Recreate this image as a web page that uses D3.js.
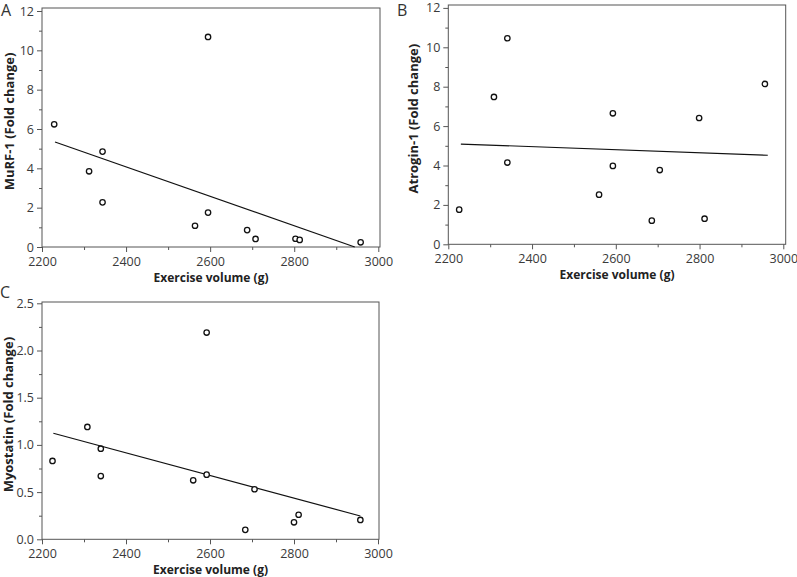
<!DOCTYPE html>
<html><head><meta charset="utf-8">
<script src="https://cdn.jsdelivr.net/npm/d3@7/dist/d3.min.js"></script>
<style>
html,body{margin:0;padding:0;background:#fff;}
svg{display:block;}
.tick text{font-family:"Open Sans",sans-serif;font-size:12.5px;fill:#3a3a3a;}
.axtitle{font-family:"Open Sans",sans-serif;font-size:13px;font-weight:700;fill:#222;}
.plabel{font-family:"Open Sans",sans-serif;font-size:16px;fill:#333;}
</style></head>
<body>
<svg id="chart" width="797" height="577"></svg>
<script>
// ---- data ----
const xTicks = [2200, 2400, 2600, 2800, 3000];
const xMinorTicks = [2300, 2500, 2700, 2900];
const yTicksAB = [0, 2, 4, 6, 8, 10, 12];
const yMinorAB = [1, 3, 5, 7, 9, 11];
const yTicksC = [0, 0.5, 1.0, 1.5, 2.0, 2.5];
const yMinorC = [0.25, 0.75, 1.25, 1.75, 2.25];

const exerciseA = [2229, 2312, 2344, 2344, 2564, 2595, 2595, 2688, 2708, 2803, 2813, 2958];
const murf1     = [6.24, 3.85, 4.85, 2.27, 1.08, 10.68, 1.75, 0.86, 0.41, 0.42, 0.36, 0.24];
const fitA = [[2231, 5.34], [2944, 0]];

const exerciseB = [2226, 2309, 2341, 2341, 2560, 2593, 2593, 2686, 2705, 2799, 2812, 2956];
const atrogin1  = [1.76, 7.48, 10.46, 4.15, 2.52, 6.65, 3.98, 1.20, 3.77, 6.41, 1.30, 8.14];
const fitB = [[2230, 5.09], [2963, 4.52]];

const exerciseC = [2225, 2308, 2340, 2340, 2560, 2592, 2592, 2684, 2706, 2800, 2811, 2958];
const myostatin = [0.83, 1.19, 0.96, 0.67, 0.625, 2.19, 0.685, 0.10, 0.53, 0.18, 0.26, 0.205];
const fitC = [[2227, 1.123], [2958, 0.247]];

// ---- drawing ----
const svg = d3.select("#chart");

function panel(cfg) {
  const g = svg.append("g");
  const x = d3.scaleLinear().domain([2200, 3000]).range([cfg.x0, cfg.x1]);
  const y = d3.scaleLinear().domain([0, cfg.ymax]).range([cfg.y0, cfg.y1]);

  // minor ticks
  g.append("g").attr("transform", `translate(0,${cfg.y0})`)
    .call(d3.axisBottom(x).tickValues(xMinorTicks).tickSize(3).tickFormat(""))
    .call(a => a.select(".domain").remove())
    .call(a => a.selectAll("line").attr("stroke", "#555"));
  g.append("g").attr("transform", `translate(${cfg.x0},0)`)
    .call(d3.axisLeft(y).tickValues(cfg.yMinor).tickSize(3).tickFormat(""))
    .call(a => a.select(".domain").remove())
    .call(a => a.selectAll("line").attr("stroke", "#555"));

  // major ticks
  g.append("g").attr("transform", `translate(0,${cfg.y0})`)
    .call(d3.axisBottom(x).tickValues(xTicks).tickSize(5).tickPadding(5).tickFormat(d3.format("d")))
    .call(a => a.select(".domain").remove())
    .call(a => a.selectAll("line").attr("stroke", "#555"));
  g.append("g").attr("transform", `translate(${cfg.x0},0)`)
    .call(d3.axisLeft(y).tickValues(cfg.yTicks).tickSize(5).tickPadding(3).tickFormat(cfg.fmt))
    .call(a => a.select(".domain").remove())
    .call(a => a.selectAll("line").attr("stroke", "#555"));

  // frame
  g.append("rect")
    .attr("x", cfg.x0).attr("y", cfg.top)
    .attr("width", cfg.right - cfg.x0).attr("height", cfg.y0 - cfg.top)
    .attr("fill", "none").attr("stroke", "#555").attr("stroke-width", 1);

  // fit line
  g.append("path")
    .attr("d", d3.line().x(d => x(d[0])).y(d => y(d[1]))(cfg.fit))
    .attr("fill", "none").attr("stroke", "#111").attr("stroke-width", 1.2);

  // points
  g.selectAll("circle.pt").data(cfg.xs.map((v, i) => [v, cfg.ys[i]]))
    .enter().append("circle").attr("class", "pt")
    .attr("cx", d => x(d[0])).attr("cy", d => y(d[1])).attr("r", 2.7)
    .attr("fill", "#fff").attr("stroke", "#111").attr("stroke-width", 1.3);

  // titles
  g.append("text").attr("class", "axtitle")
    .attr("x", (cfg.x0 + cfg.right) / 2).attr("y", cfg.y0 + 35)
    .attr("text-anchor", "middle")
    .attr("textLength", 115).attr("lengthAdjust", "spacingAndGlyphs")
    .text("Exercise volume (g)");
  g.append("text").attr("class", "axtitle")
    .attr("transform", `translate(${cfg.ytx},${(cfg.top + cfg.y0) / 2 - 6}) rotate(-90)`)
    .attr("text-anchor", "middle").attr("dy", "0.35em").text(cfg.ylabel);
  g.append("text").attr("class", "plabel")
    .attr("x", cfg.lx).attr("y", cfg.ly).text(cfg.letter);
}

panel({x0: 42, x1: 378.3, right: 380, y0: 247, y1: 11, top: 8, ymax: 12,
  yTicks: yTicksAB, yMinor: yMinorAB, fmt: d3.format("d"),
  xs: exerciseA, ys: murf1, fit: fitA, ylabel: "MuRF-1 (Fold change)", ytx: 9,
  letter: "A", lx: 1, ly: 15.5});

panel({x0: 448.3, x1: 783.3, right: 785.7, y0: 244.3, y1: 7.9, top: 5, ymax: 12,
  yTicks: yTicksAB, yMinor: yMinorAB, fmt: d3.format("d"),
  xs: exerciseB, ys: atrogin1, fit: fitB, ylabel: "Atrogin-1 (Fold change)", ytx: 413,
  letter: "B", lx: 397, ly: 15.5});

panel({x0: 42, x1: 378, right: 379, y0: 539.3, y1: 303.3, top: 302, ymax: 2.5,
  yTicks: yTicksC, yMinor: yMinorC, fmt: d3.format(".1f"),
  xs: exerciseC, ys: myostatin, fit: fitC, ylabel: "Myostatin (Fold change)", ytx: 8,
  letter: "C", lx: 0, ly: 298});
</script>
</body></html>
